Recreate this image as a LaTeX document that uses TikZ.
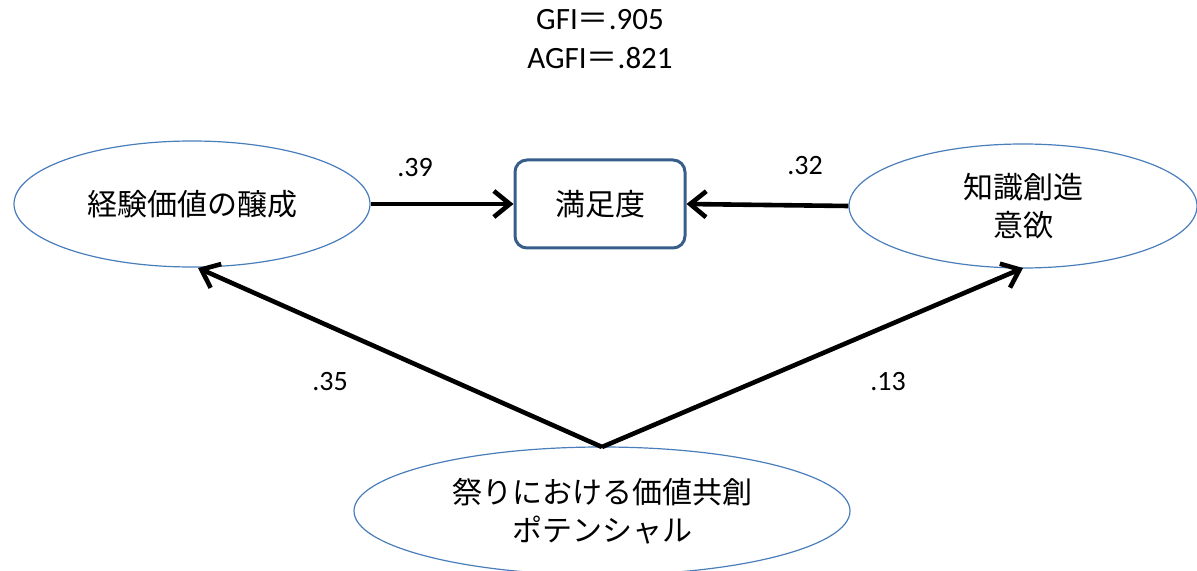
\documentclass[tikz,border=0pt]{standalone}
\usepackage{fontspec}
\setmainfont{Carlito}
\newfontfamily\jp{Noto Sans CJK JP}
\usetikzlibrary{shapes.geometric,arrows.meta}
\definecolor{ellb}{HTML}{4A7EBB}
\definecolor{boxb}{HTML}{385D8A}
\tikzset{
  latent/.style={ellipse, draw=ellb, line width=0.6pt, fill=white, inner sep=0pt, align=center, font=\jp\fontsize{15}{19}\selectfont},
  obsbox/.style={rectangle, rounded corners=6pt, draw=boxb, line width=1.5pt, fill=white, inner sep=0pt, font=\jp\fontsize{15}{19}\selectfont},
  path/.style={line width=2.3pt, -{Straight Barb[length=8pt,width=13pt,line width=2.3pt]}},
  coef/.style={font=\fontsize{14}{16}\selectfont, inner sep=0pt},
  fit/.style={font=\fontsize{15.5}{18}\selectfont, inner sep=0pt},
}
\begin{document}
\begin{tikzpicture}[x=0.5pt,y=-0.5pt]
\useasboundingbox (0,0) rectangle (1197,571);
\node[fit] (gfi) at (600,20) {GFI{\jp ＝}.905};
\node[fit] (agfi) at (600,58) {AGFI{\jp ＝}.821};
\node[latent, minimum width=178pt, minimum height=63pt] (exp) at (192,204) {経験価値の醸成};
\node[obsbox, minimum width=85pt, minimum height=44pt] (sat) at (600,204) {満足度};
\node[latent, minimum width=174pt, minimum height=62pt] (know) at (1023,206) {知識創造\\意欲};
\node[latent, minimum width=248pt, minimum height=64pt] (fest) at (602,511) {祭りにおける価値共創\\ポテンシャル};
\coordinate (top) at (602,447);
\coordinate (el) at (198,268);
\coordinate (kr) at (1023,268);
\draw[path] (exp.east) -- (sat.west);
\draw[path] (know.west) -- (sat.east);
\draw[path] (top) -- (el);
\draw[path] (top) -- (kr);
\node[coef] (c39) at (415,168) {.39};
\node[coef] (c32) at (805,166) {.32};
\node[coef] (c35) at (330,382) {.35};
\node[coef] (c13) at (888,382) {.13};
\end{tikzpicture}
\end{document}
